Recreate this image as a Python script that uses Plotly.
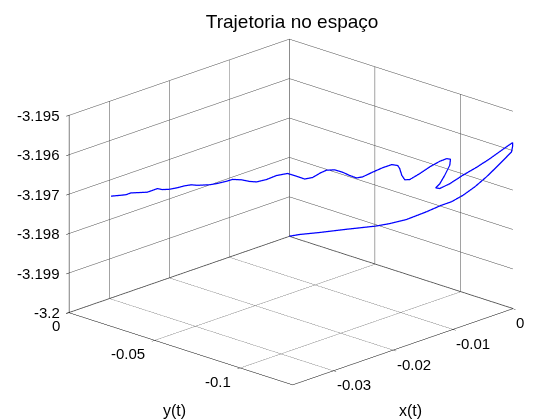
import plotly.graph_objects as go

# ---- data ----
x_vals = [0, 0, 0, 0, 0, 0, 0, 0, 0, 0, 0, 0, 0, 0, 0, 0, 0,
          0, -0.000257, -0.001018, -0.002091, -0.003284, -0.004568, -0.00576, -0.006678,
          -0.007045, -0.006678, -0.006219, -0.00576, -0.005696, -0.006036, -0.006678, -0.007595,
          -0.008512, -0.009429, -0.009888, -0.010163, -0.010347, -0.01053, -0.01108, -0.01191,
          -0.01282, -0.01374, -0.01429, -0.01493, -0.01557, -0.01631, -0.01704, -0.01759,
          -0.01833, -0.01906, -0.01979, -0.02062, -0.02163, -0.02255, -0.02346, -0.0241,
          -0.02484, -0.02566, -0.02622, -0.02713, -0.02777, -0.02888, -0.02943, -0.03007,
          -0.03071, -0.03144, -0.03209, -0.03254, -0.033, -0.03346, -0.0342, -0.03496,
          -0.03542, -0.03603, -0.03679]
y_vals = [0, -0.00586, -0.01757, -0.03321, -0.05078, -0.05857, -0.06835, -0.08006, -0.08884,
          -0.0947, -0.10149, -0.10835, -0.1152, -0.12106, -0.12592, -0.12984, -0.1305,
          -0.1305, -0.12976, -0.12756, -0.12447, -0.12103, -0.11733, -0.11389, -0.11125,
          -0.11019, -0.11125, -0.11257, -0.11389, -0.11408, -0.1131, -0.11125, -0.1086,
          -0.10596, -0.10331, -0.10199, -0.1012, -0.10067, -0.10014, -0.09855, -0.09617,
          -0.09353, -0.09088, -0.0893, -0.08745, -0.08559, -0.08348, -0.08136, -0.07978,
          -0.07766, -0.07555, -0.07343, -0.07105, -0.06814, -0.0655, -0.06285, -0.061,
          -0.05888, -0.0565, -0.05492, -0.05227, -0.05042, -0.04725, -0.04566, -0.04381,
          -0.04196, -0.03984, -0.03799, -0.03667, -0.03535, -0.03402, -0.03191, -0.0297,
          -0.02838, -0.02662, -0.02443]
z_vals = [-3.2, -3.199875, -3.19966, -3.19936, -3.19903, -3.19886, -3.19862, -3.19826, -3.19797,
          -3.1978, -3.19754, -3.19723, -3.19688, -3.19655, -3.19627, -3.19604, -3.19588,
          -3.1958, -3.19584, -3.19598, -3.19618, -3.19638, -3.19657, -3.19677, -3.19688,
          -3.19686, -3.19676, -3.19655, -3.1963, -3.19615, -3.19613, -3.19619, -3.19632,
          -3.19648, -3.19662, -3.19662, -3.1965, -3.19633, -3.19625, -3.19622, -3.19629,
          -3.19639, -3.1965, -3.19652, -3.19645, -3.19636, -3.19629, -3.19629, -3.19635,
          -3.19646, -3.19649, -3.19641, -3.19633, -3.19637, -3.19646, -3.19651, -3.19649,
          -3.19644, -3.19642, -3.19646, -3.19651, -3.19653, -3.19653, -3.19651, -3.19653,
          -3.19657, -3.1966, -3.1966, -3.19657, -3.19661, -3.19665, -3.19665, -3.19665,
          -3.19669, -3.1967, -3.19671]

x_ticks = [-0.03, -0.02, -0.01, 0]
x_ticklabels = ["-0.03", "-0.02", "-0.01", "0"]
y_ticks = [-0.1, -0.05, 0]
y_ticklabels = ["-0.1", "-0.05", "0"]
z_ticks = [-3.2, -3.199, -3.198, -3.197, -3.196, -3.195]
z_ticklabels = ["-3.2", "-3.199", "-3.198", "-3.197", "-3.196", "-3.195"]

x_range = [-0.0368, 0.00001]
y_range = [-0.1306, 0.00001]
z_range = [-3.20001, -3.195]

title_text = "Trajetoria no espaço"
x_title = "x(t)"
y_title = "y(t)"

FONT = "Liberation Sans, Arial, sans-serif"
TICKFONT = dict(family=FONT, size=15, color="black")

fig = go.Figure()
fig.add_trace(go.Scatter3d(
    x=x_vals, y=y_vals, z=z_vals,
    mode="lines",
    line=dict(color="rgb(0,0,255)", width=2.5),
    hoverinfo="skip",
    showlegend=False,
))


def axis(rng, tv):
    return dict(
        title=dict(text=""),
        range=rng,
        autorange=False,
        tickvals=tv,
        showticklabels=False,
        showgrid=True,
        gridcolor="rgb(70,70,70)",
        gridwidth=1,
        showbackground=False,
        showline=True,
        linecolor="black",
        linewidth=1,
        zeroline=False,
        ticks="outside",
        ticklen=4,
        tickcolor="black",
        showspikes=False,
    )


# tick labels as flat text anchored at 3-D tick positions
annotations = []
for v, t in zip(z_ticks, z_ticklabels):
    annotations.append(dict(x=x_range[0], y=0, z=v, text=t, showarrow=False,
                            xanchor="right", yanchor="middle", xshift=-8, font=TICKFONT))
for v, t in zip(y_ticks, y_ticklabels):
    annotations.append(dict(x=x_range[0], y=v, z=z_range[0], text=t, showarrow=False,
                            xanchor="right", yanchor="middle", xshift=-8, yshift=-13,
                            font=TICKFONT))
for v, t in zip(x_ticks, x_ticklabels):
    annotations.append(dict(x=v, y=y_range[0], z=z_range[0], text=t, showarrow=False,
                            xanchor="left", yanchor="middle", xshift=1, yshift=-14,
                            font=TICKFONT))
annotations.append(dict(x=x_range[0], y=-0.0653, z=z_range[0], text=y_title, showarrow=False,
                        xanchor="center", yanchor="middle", xshift=-7, yshift=-62,
                        font=dict(family=FONT, size=16, color="black")))
annotations.append(dict(x=-0.0184, y=y_range[0], z=z_range[0], text=x_title, showarrow=False,
                        xanchor="center", yanchor="middle", xshift=7, yshift=-64,
                        font=dict(family=FONT, size=16, color="black")))

k = 2.0
f = 1.554
fig.update_layout(
    width=534, height=419,
    margin=dict(l=0, r=0, t=0, b=0),
    paper_bgcolor="white",
    hovermode=False,
    title=dict(text=title_text, x=0.532, xanchor="center", y=0.969, yanchor="middle",
               font=dict(family=FONT, size=19, color="black")),
    scene=dict(
        domain=dict(x=[0.0832, 0.9782], y=[0.0355, 0.9905]),
        aspectmode="manual",
        aspectratio=dict(x=1.02 * f, y=1.0 * f, z=0.674 * f),
        camera=dict(
            projection=dict(type="orthographic"),
            eye=dict(x=-0.678 * k, y=-0.6548 * k, z=0.334 * k),
            center=dict(x=0, y=0, z=0),
            up=dict(x=0, y=0, z=1),
        ),
        xaxis=axis(x_range, x_ticks),
        yaxis=axis(y_range, y_ticks),
        zaxis=axis(z_range, z_ticks),
        annotations=annotations,
    ),
)

fig.write_html("out.html")
